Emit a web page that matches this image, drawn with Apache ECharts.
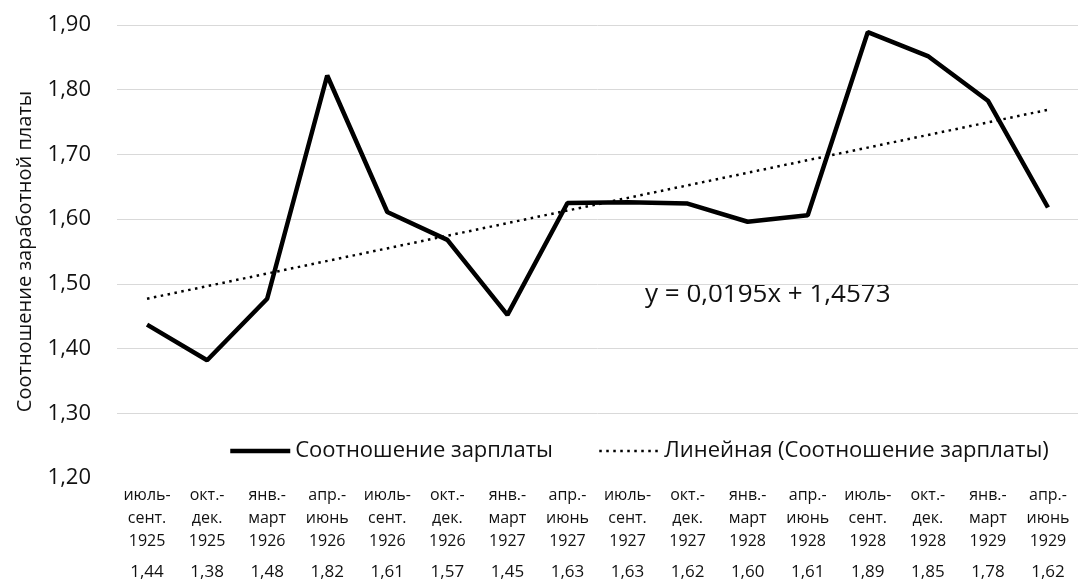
<!DOCTYPE html>
<html>
<head>
<meta charset="utf-8">
<script src="https://cdn.jsdelivr.net/npm/echarts@6/dist/echarts.min.js"></script>
<style>
  html, body { margin: 0; padding: 0; background: #fff; }
  #chart { width: 1078px; height: 581px; }
</style>
</head>
<body>
<div id="chart"></div>
<script>
// кварталы
var periods = ['июль-\nсент.', 'окт.-\nдек.', 'янв.-\nмарт', 'апр.-\nиюнь',
  'июль-\nсент.', 'окт.-\nдек.', 'янв.-\nмарт', 'апр.-\nиюнь',
  'июль-\nсент.', 'окт.-\nдек.', 'янв.-\nмарт', 'апр.-\nиюнь',
  'июль-\nсент.', 'окт.-\nдек.', 'янв.-\nмарт', 'апр.-\nиюнь']
var years = ['1925', '1925', '1926', '1926', '1926', '1926', '1927', '1927',
  '1927', '1927', '1928', '1928', '1928', '1928', '1929', '1929']
// соотношение зарплаты
var ratio = [1.437, 1.382, 1.477, 1.822, 1.611, 1.568, 1.452, 1.625,
  1.626, 1.624, 1.596, 1.606, 1.889, 1.852, 1.783, 1.618]
// линейный тренд: начало и конец линии
var trendStart = 1.477
var trendEnd = 1.769
var trendText = 'y = 0,0195x + 1,4573'

var FONT = 'Open Sans'
var fmt = function (v) { return v.toFixed(2).replace('.', ',') }

var categories = periods.map(function (p, i) { return p + '\n' + years[i] })
var trend = ratio.map(function (v, i) {
  if (i === 0) return trendStart
  if (i === ratio.length - 1) return trendEnd
  return null
})

var solidLine = { color: '#000', width: 4.5 }
var dotLine = { color: '#000', width: 2.5, type: [2.5, 4.5] }

var myChart = echarts.init(document.getElementById('chart'))
myChart.setOption({
  animation: false,
  textStyle: { fontFamily: FONT },
  grid: { left: 117, right: -7, top: 25, bottom: 103 },
  legend: {
    left: 228,
    top: 440,
    padding: 0,
    itemWidth: 60,
    itemHeight: 14,
    itemGap: 45,
    itemStyle: { opacity: 0 },
    textStyle: { fontFamily: FONT, fontSize: 22, color: '#111' },
    data: [
      { name: 'Соотношение зарплаты', lineStyle: solidLine },
      { name: 'Линейная (Соотношение зарплаты)', lineStyle: dotLine }
    ]
  },
  xAxis: {
    type: 'category',
    data: categories,
    axisLine: { show: false },
    axisTick: { show: false },
    axisLabel: {
      interval: 0,
      margin: 6,
      formatter: function (value, idx) {
        var lines = value.split('\n').map(function (l) { return '{a|' + l + '}' })
        return lines.join('\n') + '\n{b|' + fmt(ratio[idx]) + '}'
      },
      rich: {
        a: { fontFamily: FONT, fontSize: 16, lineHeight: 23, color: '#111' },
        b: { fontFamily: FONT, fontSize: 17, lineHeight: 39, color: '#111' }
      }
    }
  },
  yAxis: {
    type: 'value',
    min: 1.2,
    max: 1.9,
    interval: 0.1,
    name: 'Соотношение заработной платы',
    nameLocation: 'middle',
    nameGap: 82,
    nameTextStyle: { fontFamily: FONT, fontSize: 20, color: '#111' },
    axisLine: { show: false },
    axisTick: { show: false },
    axisLabel: {
      margin: 26,
      fontFamily: FONT,
      fontSize: 22,
      color: '#111',
      formatter: fmt
    },
    splitLine: { showMinLine: false, lineStyle: { color: '#d9d9d9', width: 1 } }
  },
  graphic: [{
    type: 'text',
    left: 645,
    top: 282,
    style: { text: trendText, font: '26px "Open Sans"', fill: '#111' }
  }],
  series: [
    {
      name: 'Соотношение зарплаты',
      type: 'line',
      data: ratio,
      symbol: 'none',
      lineStyle: solidLine,
      itemStyle: { color: '#000' }
    },
    {
      name: 'Линейная (Соотношение зарплаты)',
      type: 'line',
      data: trend,
      connectNulls: true,
      symbol: 'none',
      lineStyle: dotLine,
      itemStyle: { color: '#000' }
    }
  ]
})
</script>
</body>
</html>
